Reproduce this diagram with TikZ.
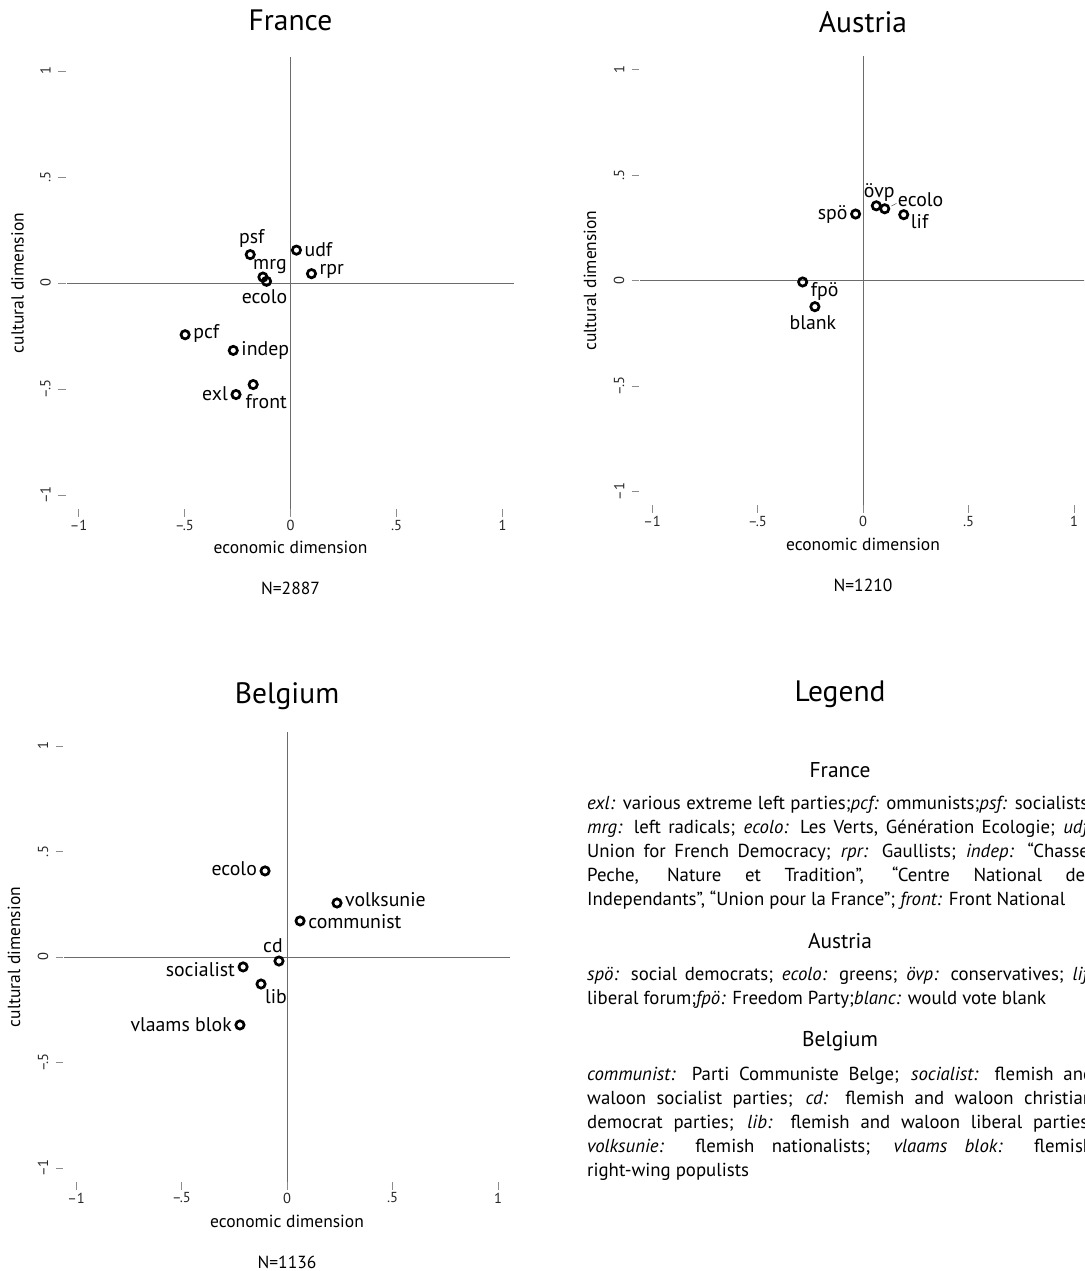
\documentclass[tikz,border=0pt]{standalone}
\usepackage{fontspec}
\setmainfont{PT Sans}
\tikzset{
  axisline/.style={draw=black!58, line width=1pt},
  tickline/.style={draw=black!45, line width=0.9pt},
  ticklab/.style={font=\fontsize{14.5}{16}\selectfont, text=black!85, inner sep=0pt},
  axlab/.style={font=\fontsize{17.5}{20}\selectfont, inner sep=0pt},
  ptitle/.style={font=\fontsize{29.5}{34}\selectfont, inner sep=0pt},
  partydot/.style={circle, draw=black, line width=2.7pt, minimum size=8.3pt, inner sep=0pt},
  plab/.style={font=\fontsize{19.8}{23}\selectfont, inner sep=0pt},
  leader/.style={draw=black!60, line width=0.6pt},
  legsub/.style={font=\fontsize{21.4}{25}\selectfont, inner sep=0pt},
  legpar/.style={anchor=north west, text width=506pt, align=justify, inner sep=0pt,
                 font=\fontsize{18.8}{24}\selectfont},
}
\newcommand\plotframe[4]{%
  \coordinate (#1L) at (-1.055,0);
  \coordinate (#1R) at (1.055,0);
  \coordinate (#1B) at (0,-1.065);
  \coordinate (#1T) at (0,1.065);
  \draw[axisline] (#1L) -- (#1R);
  \draw[axisline] (#1B) -- (#1T);
  \foreach \v/\lab/\n in {-1/{–1}/a,-0.5/{–.5}/b,0/0/c,0.5/.5/d,1/1/e}{%
    \coordinate (#1xa\n) at (\v,-1.066);
    \coordinate (#1xb\n) at (\v,-1.104);
    \draw[tickline] (#1xa\n) -- (#1xb\n);
    \node[ticklab] (#1xl\n) at (\v,-1.142) {\lab};
    \coordinate (#1ya\n) at (-1.095,\v);
    \coordinate (#1yb\n) at (-1.06,\v);
    \draw[tickline] (#1ya\n) -- (#1yb\n);
    \node[ticklab,rotate=90] (#1yl\n) at (-1.156,\v) {\lab};
  }
  \node[axlab,yshift=-264pt] (#1xlab) at (0,0) {economic dimension};
  \node[axlab,xshift=-273pt,rotate=90] (#1ylab) at (0,0) {cultural dimension};
  \node[axlab,yshift=-305pt] (#1N) at (0,0) {N=#3};
  \node[ptitle,yshift=#4] (#1title) at (0,0) {#2};
}
\begin{document}
\begin{tikzpicture}[x=1pt,y=-1pt]
\clip (0,0) rectangle (1084,1271);
\fill[white] (0,0) rectangle (1084,1271);

% ---------------- France ----------------
\begin{scope}[shift={(290.5,283)},x=212pt,y=212pt]
\plotframe{F}{France}{2887}{263pt}
\node[partydot] (Fpsf) at (-0.19,0.134) {};
\node[partydot] (Fmrg) at (-0.13,0.028) {};
\node[partydot] (Fecolo) at (-0.113,0.008) {};
\node[partydot] (Fudf) at (0.028,0.155) {};
\node[partydot] (Frpr) at (0.099,0.044) {};
\node[partydot] (Fpcf) at (-0.497,-0.244) {};
\node[partydot] (Findep) at (-0.27,-0.318) {};
\node[partydot] (Ffront) at (-0.176,-0.479) {};
\node[partydot] (Fexl) at (-0.257,-0.526) {};
\node[plab,xshift=1.5pt,yshift=16pt] (Fpsfl) at (Fpsf) {psf};
\node[plab,xshift=7pt,yshift=11pt] (Fmrgl) at (Fmrg) {mrg};
\node[plab,xshift=-2pt,yshift=-15pt] (Fecolol) at (Fecolo) {ecolo};
\node[plab,anchor=west,xshift=8pt,yshift=1pt] (Fudfl) at (Fudf) {udf};
\node[plab,anchor=west,xshift=8pt,yshift=2pt] (Frprl) at (Frpr) {rpr};
\node[plab,anchor=west,xshift=8pt,yshift=1pt] (Fpcfl) at (Fpcf) {pcf};
\node[plab,anchor=west,xshift=8pt,yshift=0pt] (Findepl) at (Findep) {indep};
\node[plab,xshift=13pt,yshift=-17pt] (Ffrontl) at (Ffront) {front};
\node[plab,anchor=east,xshift=-8pt,yshift=1pt] (Fexll) at (Fexl) {exl};
\end{scope}

% ---------------- Austria ----------------
\begin{scope}[shift={(863,280.5)},x=211pt,y=211pt]
\plotframe{A}{Austria}{1210}{258.5pt}
\node[partydot] (Aspo) at (-0.035,0.315) {};
\node[partydot] (Aovp) at (0.063,0.354) {};
\node[partydot] (Aecolo) at (0.103,0.34) {};
\node[partydot] (Alif) at (0.193,0.312) {};
\node[partydot] (Afpo) at (-0.286,-0.007) {};
\node[partydot] (Ablank) at (-0.228,-0.124) {};
\node[plab,anchor=east,xshift=-8pt] (Aspol) at (Aspo) {spö};
\node[plab,xshift=3pt,yshift=13pt] (Aovpl) at (Aovp) {övp};
\node[plab,anchor=west,xshift=13pt,yshift=9pt] (Aecolol) at (Aecolo) {ecolo};
\node[plab,anchor=west,xshift=7pt,yshift=-7pt] (Alifl) at (Alif) {lif};
\node[plab,anchor=west,xshift=8pt,yshift=-10pt] (Afpol) at (Afpo) {fpö};
\node[plab,xshift=-2pt,yshift=-16pt] (Ablankl) at (Ablank) {blank};
\coordinate[xshift=6.7pt,yshift=2.7pt] (AleadA) at (Aecolo);
\coordinate[xshift=11.7pt,yshift=5.4pt] (AleadB) at (Aecolo);
\draw[leader] (AleadA) -- (AleadB);
\end{scope}

% ---------------- Belgium ----------------
\begin{scope}[shift={(287,957)},x=211pt,y=211pt]
\plotframe{B}{Belgium}{1136}{261pt}
\node[partydot] (Becolo) at (-0.104,0.408) {};
\node[partydot] (Bvolk) at (0.237,0.256) {};
\node[partydot] (Bcomm) at (0.062,0.171) {};
\node[partydot] (Bcd) at (-0.038,-0.019) {};
\node[partydot] (Bsoc) at (-0.208,-0.047) {};
\node[partydot] (Blib) at (-0.123,-0.128) {};
\node[partydot] (Bvb) at (-0.223,-0.322) {};
\node[plab,anchor=east,xshift=-8pt,yshift=2pt] (Becolol) at (Becolo) {ecolo};
\node[plab,anchor=west,xshift=8pt,yshift=3pt] (Bvolkl) at (Bvolk) {volksunie};
\node[plab,anchor=west,xshift=8pt,yshift=-1pt] (Bcomml) at (Bcomm) {communist};
\node[plab,xshift=-6pt,yshift=15pt] (Bcdl) at (Bcd) {cd};
\node[plab,anchor=east,xshift=-8pt,yshift=-3pt] (Bsocl) at (Bsoc) {socialist};
\node[plab,xshift=15pt,yshift=-13pt] (Blibl) at (Blib) {lib};
\node[plab,anchor=east,xshift=-8pt] (Bvbl) at (Bvb) {vlaams blok};
\end{scope}

% ---------------- Legend ----------------
\node[ptitle] (legtitle) at (840,694) {Legend};
\node[legsub] (legFrH) at (840,770) {France};
\node[legpar] (legFr) at (587,796) {\textit{exl:} various extreme left parties;\textit{pcf:} ommunists;\textit{psf:} socialists;\linebreak
\textit{mrg:} left radicals; \textit{ecolo:} Les Verts, Génération Ecologie; \textit{udf:}\linebreak
Union for French Democracy; \textit{rpr:} Gaullists; \textit{indep:} “Chasse,\linebreak
Peche, Nature et Tradition”, “Centre National des\linebreak
Independants”, “Union pour la France”; \textit{front:} Front National};
\node[legsub] (legAtH) at (840,941) {Austria};
\node[legpar] (legAt) at (587,967) {\textit{spö:} social democrats; \textit{ecolo:} greens; \textit{övp:} conservatives; \textit{lif:}\linebreak
liberal forum;\textit{fpö:} Freedom Party;\textit{blanc:} would vote blank};
\node[legsub] (legBeH) at (840,1041) {Belgium};
\node[legpar] (legBe) at (587,1067) {\textit{communist:} Parti Communiste Belge; \textit{socialist:} flemish and\linebreak
waloon socialist parties; \textit{cd:} flemish and waloon christian\linebreak
democrat parties; \textit{lib:} flemish and waloon liberal parties;\linebreak
\textit{volksunie:} flemish nationalists; \textit{vlaams blok:} flemish\linebreak
right-wing populists};
\end{tikzpicture}
\end{document}
